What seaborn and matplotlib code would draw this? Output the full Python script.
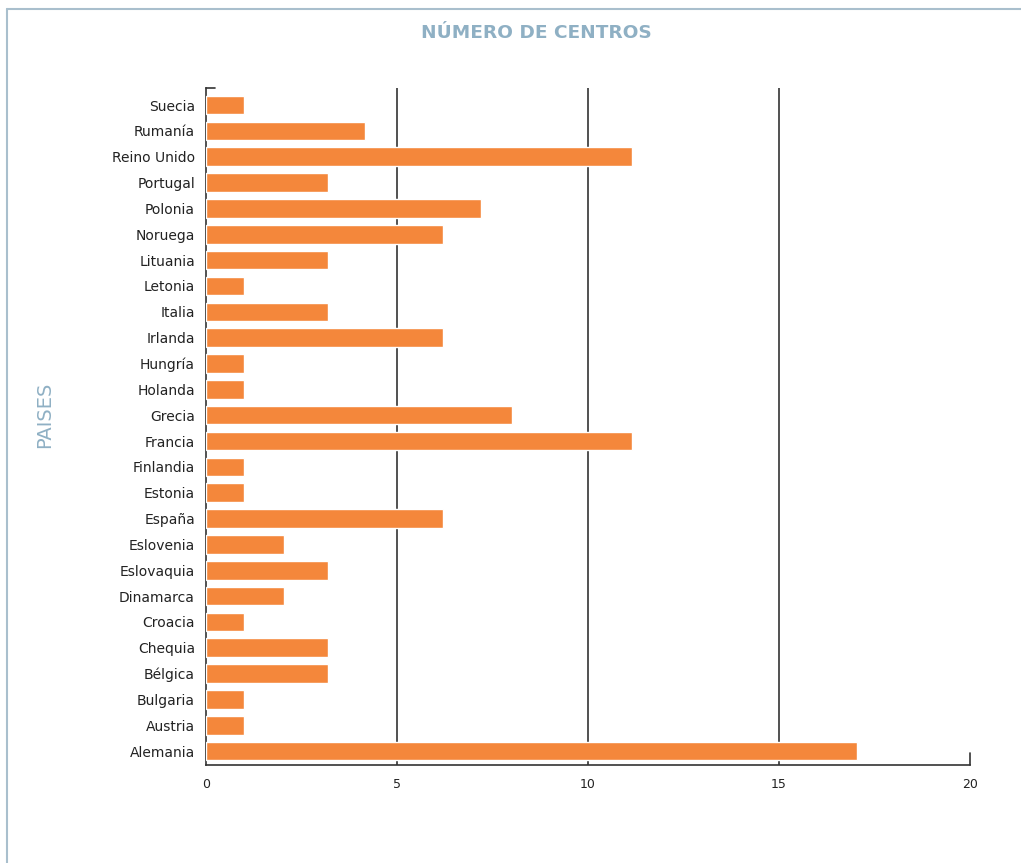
import matplotlib
matplotlib.use('Agg')
import matplotlib.pyplot as plt
from matplotlib.lines import Line2D
import seaborn as sns
import pandas as pd

# datos
paises = ['Suecia', 'Rumanía', 'Reino Unido', 'Portugal', 'Polonia', 'Noruega',
          'Lituania', 'Letonia', 'Italia', 'Irlanda', 'Hungría', 'Holanda',
          'Grecia', 'Francia', 'Finlandia', 'Estonia', 'España', 'Eslovenia',
          'Eslovaquia', 'Dinamarca', 'Croacia', 'Chequia', 'Bélgica', 'Bulgaria',
          'Austria', 'Alemania']
centros = [1, 4.15, 11.15, 3.2, 7.2, 6.2,
           3.2, 1, 3.2, 6.2, 1, 1,
           8, 11.15, 1, 1, 6.2, 2.05,
           3.2, 2.05, 1, 3.2, 3.2, 1,
           1, 17.05]
ticks_x = [0, 5, 10, 15, 20]

df = pd.DataFrame({'pais': paises, 'centros': centros})

sns.set_style('white')
plt.rcParams['font.family'] = ['DejaVu Sans']

azul = '#8fb0c4'
naranja = '#f4873b'
gris = '#333333'

fig = plt.figure(figsize=(10.21, 8.63), dpi=100)
ax = fig.add_axes([0.2018, 0.1135, 0.7482, 0.7845])

sns.barplot(data=df, x='centros', y='pais', orient='h', color=naranja,
            width=0.72, saturation=1, ax=ax, zorder=3)

ax.set_xlim(0, 20)
ax.set_ylim(25.54, -0.66)
ax.set_xticks(ticks_x)
ax.set_xticklabels([str(t) for t in ticks_x], fontsize=9, color='#222222')
ax.tick_params(axis='y', labelsize=10, colors='#222222', length=0, pad=8)
ax.tick_params(axis='x', length=0, pad=9)
ax.set_xlabel('')
ax.set_ylabel('')

for t in ticks_x[1:-1]:
    ax.axvline(t, color=gris, lw=1.2, zorder=1)

for s in ['top', 'right']:
    ax.spines[s].set_visible(False)
for s in ['left', 'bottom']:
    ax.spines[s].set_color(gris)
    ax.spines[s].set_linewidth(1.2)

# pequeños remates de los ejes
ax.add_line(Line2D([0, 0.012], [1, 1], transform=ax.transAxes, color=gris, lw=1.2, clip_on=False))
ax.add_line(Line2D([1, 1], [0, 0.018], transform=ax.transAxes, color=gris, lw=1.2, clip_on=False))

fig.text(0.525, 0.962, 'NÚMERO DE CENTROS', ha='center', va='center',
         fontsize=13.3, fontweight='semibold', color=azul)
fig.text(0.044, 0.519, 'PAISES', ha='center', va='center', rotation=90,
         fontsize=14, color=azul)

# marco
fig.add_artist(Line2D([0.0069, 1], [0.9896, 0.9896], color='#a9bfcd', lw=1.5))
fig.add_artist(Line2D([0.0069, 0.0069], [0, 0.9896], color='#a9bfcd', lw=1.5))

fig.savefig('out.png', dpi=100)
